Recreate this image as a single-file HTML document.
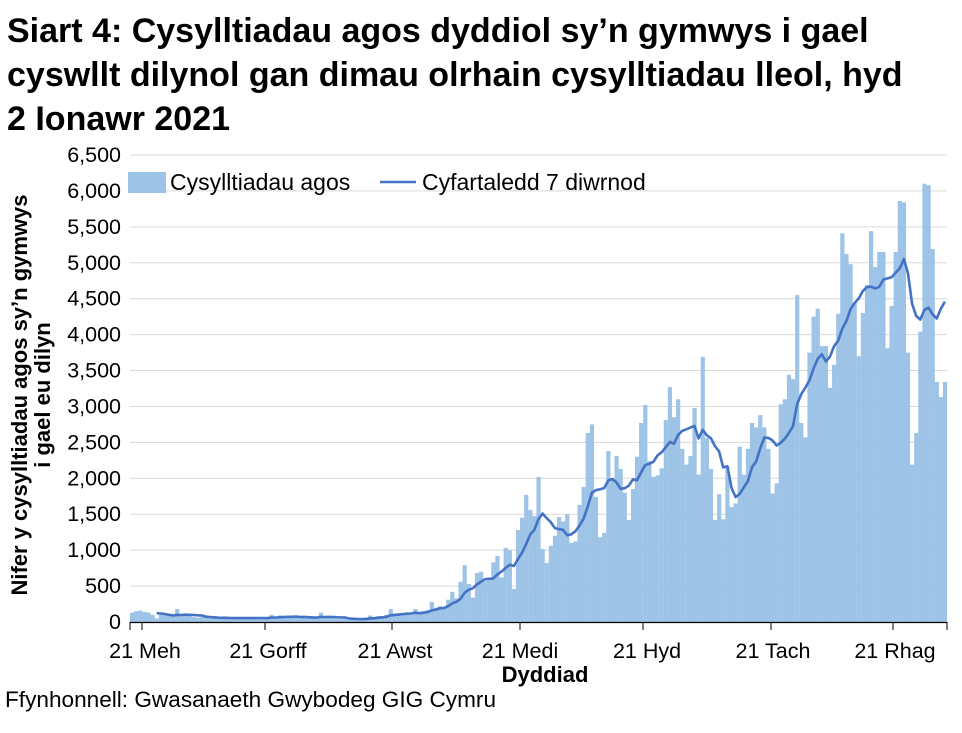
<!DOCTYPE html>
<html><head><meta charset="utf-8"><style>
body{margin:0;background:#fff;}
svg text{font-family:"Liberation Sans",Arial,sans-serif;}
</style></head><body>
<svg id="s" width="962" height="728" xmlns="http://www.w3.org/2000/svg">
<text x="7" y="42" font-size="34" font-weight="bold">Siart 4: Cysylltiadau agos dyddiol sy’n gymwys i gael</text>
<text x="7" y="86" font-size="34" font-weight="bold">cyswllt dilynol gan dimau olrhain cysylltiadau lleol, hyd</text>
<text x="7" y="130" font-size="34" font-weight="bold">2 Ionawr 2021</text>
<g id="grid"></g>
<g id="bars"></g>
<polyline id="ln" fill="none" stroke="#4472C4" stroke-width="2.6" stroke-linejoin="round"/>
<line x1="130" y1="622.5" x2="947" y2="622.5" stroke="#000" stroke-width="1.2"/>
<g id="ticks"></g>
<g font-size="21.5" text-anchor="end" id="yl"></g>
<g font-size="21.5" text-anchor="middle">
<text x="145" y="658">21 Meh</text><text x="268" y="658">21 Gorff</text><text x="395" y="658">21 Awst</text><text x="520" y="658">21 Medi</text><text x="647" y="658">21 Hyd</text><text x="773" y="658">21 Tach</text><text x="895" y="658">21 Rhag</text>
</g>
<text x="545" y="682" font-size="22" font-weight="bold" text-anchor="middle">Dyddiad</text>
<text transform="translate(27,395) rotate(-90)" font-size="22" font-weight="bold" text-anchor="middle">Nifer y cysylltiadau agos sy’n gymwys</text>
<text transform="translate(50,395) rotate(-90)" font-size="22" font-weight="bold" text-anchor="middle">i gael eu dilyn</text>
<text x="5" y="707" font-size="22.6">Ffynhonnell: Gwasanaeth Gwybodeg GIG Cymru</text>
<rect x="128" y="172" width="38" height="21" fill="#9DC3E6"/>
<text x="170" y="190" font-size="23">Cysylltiadau agos</text>
<line x1="380" y1="182" x2="416" y2="182" stroke="#4472C4" stroke-width="2.6"/>
<text x="422" y="190" font-size="23">Cyfartaledd 7 diwrnod</text>
</svg>
<script>
var d=[130,150,160,140,130,100,50,100,90,90,80,180,90,80,90,70,60,70,60,50,60,
50,55,60,50,55,60,50,55,60,50,55,60,50,100,60,90,70,80,60,70,
60,70,60,50,60,130,60,70,50,40,40,40,30,40,50,40,60,90,60,80,80,100,
180,100,120,110,120,100,180,130,150,170,280,200,220,210,310,420,330,560,790,530,340,680,700,570,600,830,920,620,1030,1000,460,1280,
1450,1770,1560,1475,2020,1015,820,1060,1200,1460,1400,1500,1100,1120,1630,1880,2630,2750,1740,1180,1240,2380,2000,2310,2130,1800,1420,1850,2300,
2770,3020,2240,2020,2040,2140,2810,3270,2850,3100,2410,2190,2310,2980,2050,3690,2560,2130,1420,1780,1430,2160,1600,1650,2440,2050,2410,2770,2710,2880,2710,2410,1790,1930,3030,3100,3440,3380,4550,2770,2570,3750,4250,4360,3840,3840,3260,3580,4290,5410,5120,4980,4440,3700,4300,4690,5440,4940,5150,5150,3810,4400,5150,5860,5840,3750,2190,2630,4040,6100,6080,5190,3340,3130,3340];
var n=d.length,x0=130,x1=947,st=(x1-x0)/n,y=function(v){return 622-v*467/6500;};
var ns="http://www.w3.org/2000/svg",b=document.getElementById('bars'),g=document.getElementById('grid'),yl=document.getElementById('yl'),tk=document.getElementById('ticks');
for(var k=0;k<=13;k++){var yy=y(k*500);
 if(k>0){var l=document.createElementNS(ns,'line');l.setAttribute('x1',x0);l.setAttribute('x2',x1);l.setAttribute('y1',yy);l.setAttribute('y2',yy);l.setAttribute('stroke','#d9d9d9');g.appendChild(l);}
 var t=document.createElementNS(ns,'text');t.setAttribute('x',121);t.setAttribute('y',yy+7);t.textContent=(k*500).toLocaleString('en-US');yl.appendChild(t);}
var pts=[];
for(var i=0;i<n;i++){var r=document.createElementNS(ns,'rect');r.setAttribute('x',x0+i*st);r.setAttribute('width',st+0.1);r.setAttribute('y',y(d[i]));r.setAttribute('height',622-y(d[i]));r.setAttribute('fill','#9DC3E6');b.appendChild(r);
 if(i>=6){var s=0;for(var j=i-6;j<=i;j++)s+=d[j];pts.push((x0+(i+0.5)*st).toFixed(1)+','+y(s/7).toFixed(1));}}
document.getElementById('ln').setAttribute('points',pts.join(' '));
[142,265,392,520,643,771,893,130,947].forEach(function(x){var l=document.createElementNS(ns,'line');l.setAttribute('x1',x);l.setAttribute('x2',x);l.setAttribute('y1',622);l.setAttribute('y2',630);l.setAttribute('stroke','#000');tk.appendChild(l);});
</script>
</body></html>
